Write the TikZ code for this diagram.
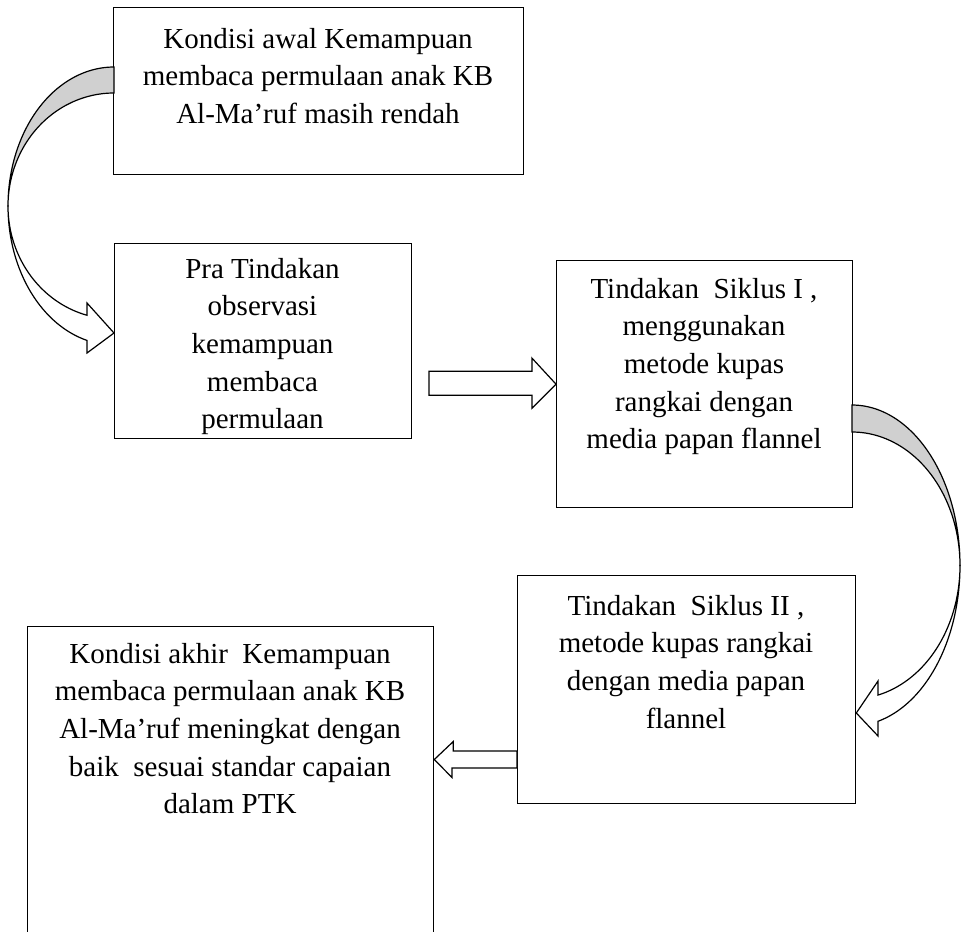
\documentclass[tikz,border=0pt]{standalone}
\usepackage{fontspec}
\setmainfont{Liberation Serif}
\definecolor{backgray}{RGB}{208,208,208}
\newcommand{\fl}{\rule{0pt}{22pt}}
\begin{document}
\begin{tikzpicture}[x=1pt,y=-1pt,
  box/.style={draw, line width=1.3pt, rectangle, inner sep=0pt, anchor=north west},
  txt/.style={font=\fontsize{29}{37.6}\selectfont, align=center, inner sep=0pt, anchor=north},
  blk/.style={draw, line width=1.2pt, fill=white, line join=miter},
  back/.style={draw, line width=1.2pt, fill=backgray, line join=miter}]
\useasboundingbox (0,0) rectangle (963,931);
\fill[white] (0,0) rectangle (963,931);
\clip (0,0) rectangle (963,931);

% boxes
\node[box, minimum width=410pt, minimum height=167pt] (b1) at (113,7) {};
\node[box, minimum width=297pt, minimum height=195pt] (b2) at (114,243) {};
\node[box, minimum width=296pt, minimum height=247pt] (b3) at (556,260) {};
\node[box, minimum width=338pt, minimum height=228pt] (b4) at (517,575) {};
\node[box, minimum width=406pt, minimum height=340pt] (b5) at (27,626) {};

% texts
\node[txt] (t1) at (318,26) {\fl Kondisi awal Kemampuan\\membaca permulaan anak KB\\Al-Ma’ruf masih rendah};
\node[txt] (t2) at (262.5,256) {\fl Pra Tindakan\\observasi\\kemampuan\\membaca\\permulaan};
\node[txt] (t3) at (704,276) {\fl Tindakan\ \ Siklus I ,\\menggunakan\\metode kupas\\rangkai dengan\\media papan flannel};
\node[txt] (t4) at (686,593) {\fl Tindakan\ \ Siklus II ,\\metode kupas rangkai\\dengan media papan\\flannel};
\node[txt] (t5) at (230,641) {\fl Kondisi akhir\ \ Kemampuan\\membaca permulaan anak KB\\Al-Ma’ruf meningkat dengan\\baik\ \ sesuai standar capaian\\dalam PTK};

% straight arrow b2 -> b3
\draw[blk] (b3.west) -- ++(-24,-26) -- ++(0,13) -- ++(-103,0) -- ++(0,24) -- ++(103,0) -- ++(0,13) -- cycle;

% straight arrow b4 -> b5
\draw[blk] (b5.east |- 0,759.5) -- ++(19,-18) -- ++(0,9.5) -- (b4.west |- 0,751) -- ++(0,17) -- (452,768) -- (452,777.5) -- cycle;

% curved arrow b1 -> b2
\draw[back] plot[domain=90:180, samples=60] ({114+106*cos(\x)},{206-139*sin(\x)})
  -- plot[domain=180:90, samples=60] ({114+106*cos(\x)},{206-113*sin(\x)}) -- cycle;
\draw[blk] plot[domain=180:255.24, samples=60] ({114+106*cos(\x)},{206-139*sin(\x)})
  -- (87,353) -- (b2.west |- 0,333) -- (87,303) -- (87,315)
  -- plot[domain=255.24:180, samples=60] ({114+106*cos(\x)},{206-113*sin(\x)}) -- cycle;

% curved arrow b3 -> b4
\draw[back] plot[domain=90:0, samples=60] ({852+108*cos(\x)},{565.5-160.5*sin(\x)})
  -- plot[domain=0:90, samples=60] ({852+108*cos(\x)},{565.5-133.5*sin(\x)}) -- cycle;
\draw[blk] plot[domain=0:-76.07, samples=60] ({852+108*cos(\x)},{565.5-160.5*sin(\x)})
  -- (878,736) -- (b4.east |- 0,713) -- (878,681) -- (878,695)
  -- plot[domain=-76.07:0, samples=60] ({852+108*cos(\x)},{565.5-133.5*sin(\x)}) -- cycle;
\end{tikzpicture}
\end{document}
